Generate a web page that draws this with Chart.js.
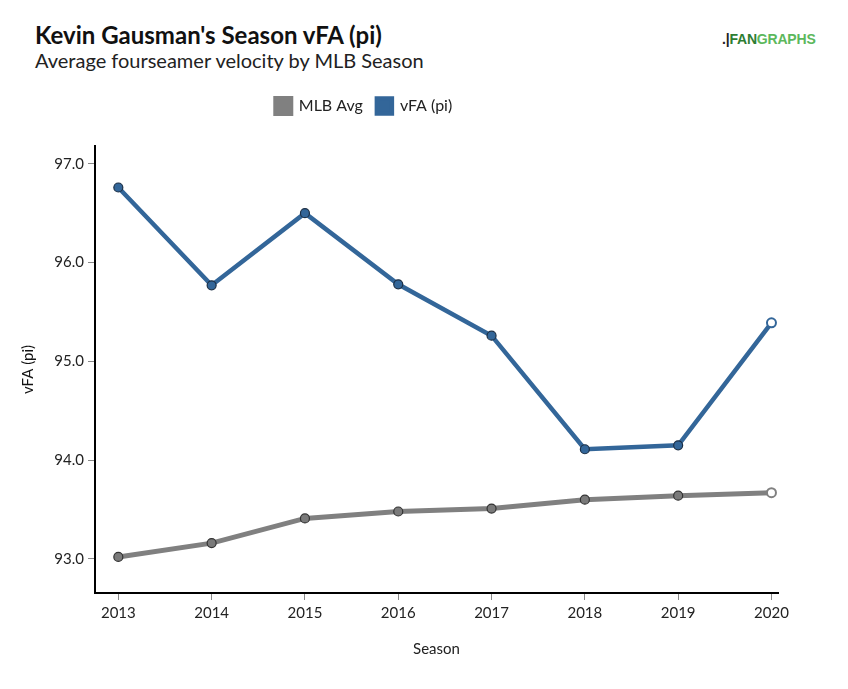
<!DOCTYPE html>
<html>
<head>
<meta charset="utf-8">
<script src="https://cdn.jsdelivr.net/npm/chart.js@4"></script>
<style>
  body { margin: 0; background: #fff; font-family: Lato, sans-serif; }
  #wrap { position: relative; width: 848px; height: 689px; }
  #title { position: absolute; left: 35px; top: 20px; font-size: 24px; font-weight: bold; color: #111; }
  #subtitle { position: absolute; left: 35px; top: 48px; font-size: 20px; color: #222; }
  #logo { position: absolute; left: 722px; top: 31px; font-family: "Liberation Sans", Arial, sans-serif; font-size: 14px; font-weight: bold; letter-spacing: -0.2px; }
  #logo .icon { color: #222; }
  #logo .fan { color: #2e7d32; }
  #logo .graphs { color: #5cb85c; }
  canvas { position: absolute; left: 0; top: 0; }
</style>
</head>
<body>
<div id="wrap">
  <div id="title">Kevin Gausman's Season vFA (pi)</div>
  <div id="subtitle">Average fourseamer velocity by MLB Season</div>
  <div id="logo"><span class="icon">.|</span><span class="fan">FAN</span><span class="graphs">GRAPHS</span></div>
  <canvas id="myChart" width="848" height="689"></canvas>
</div>
<script>
// シーズン
const seasons = [2013, 2014, 2015, 2016, 2017, 2018, 2019, 2020];

// MLB平均
const mlbAvg = [93.02, 93.16, 93.41, 93.48, 93.51, 93.60, 93.64, 93.67];

// ガウスマンの vFA (pi)
const vfa = [96.76, 95.77, 96.50, 95.78, 95.26, 94.11, 94.15, 95.39];

// 目盛り
const yTicks = [93, 94, 95, 96, 97];

const blue = '#336699';
const gray = '#808080';

// 最後の点だけ白抜き
const isLast = ctx => ctx.dataIndex === seasons.length - 1;
function fillFor(color) {
    return ctx => isLast(ctx) ? '#ffffff' : color;
}
function borderFor(color, edge) {
    return ctx => isLast(ctx) ? color : edge;
}
const borderWidthFor = ctx => isLast(ctx) ? 2 : 1.2;

// 凡例の位置をずらす
const legendShift = {
    id: 'legendShift',
    afterInit(chart) {
        const lg = chart.legend;
        const fit = lg.fit;
        lg.fit = function () { fit.call(this); this.height += 22; };
        const draw = lg.draw;
        lg.draw = function () {
            const s = 364 - (this.left + this.right) / 2;
            this.left += s; this.right += s;
            draw.call(this);
        };
    }
};

const data = {
    datasets: [{
        label: 'MLB Avg',
        data: seasons.map((s, i) => ({ x: s, y: mlbAvg[i] })),
        borderColor: gray,
        backgroundColor: gray,
        borderWidth: 5,
        pointRadius: 4.5,
        pointBorderWidth: borderWidthFor,
        pointBackgroundColor: fillFor('#7a7a7a'),
        pointBorderColor: borderFor(gray, '#333333'),
    }, {
        label: 'vFA (pi)',
        data: seasons.map((s, i) => ({ x: s, y: vfa[i] })),
        borderColor: blue,
        backgroundColor: blue,
        borderWidth: 4.5,
        pointRadius: 4.5,
        pointBorderWidth: borderWidthFor,
        pointBackgroundColor: fillFor(blue),
        pointBorderColor: borderFor(blue, '#1c2f45'),
    }]
};

const config = {
    type: 'line',
    data: data,
    plugins: [legendShift],
    options: {
        responsive: false,
        animation: false,
        layout: { padding: { top: 84, left: 0, right: 70, bottom: 0 } },
        font: { family: 'Lato' },
        plugins: {
            legend: {
                labels: {
                    boxWidth: 15, boxHeight: 15, padding: 14,
                    color: '#222', font: { family: 'Lato', size: 16 }
                }
            },
            tooltip: { enabled: false }
        },
        scales: {
            x: {
                type: 'linear',
                min: 2012.75,
                max: 2020.07,
                afterBuildTicks: s => { s.ticks = seasons.map(v => ({ value: v })); },
                afterFit: s => { s.height = 96; },
                ticks: {
                    callback: v => String(v),
                    color: '#222', font: { family: 'Lato', size: 15 }, padding: 4, maxRotation: 0
                },
                grid: { drawOnChartArea: false, tickLength: 7, color: '#888' },
                border: { color: '#000', width: 2 },
                title: {
                    display: true, text: 'Season', color: '#222',
                    font: { family: 'Lato', size: 15 }, padding: { top: 0, bottom: 31 }
                }
            },
            y: {
                min: 92.655,
                max: 97.18,
                afterBuildTicks: s => { s.ticks = yTicks.map(v => ({ value: v })); },
                afterFit: s => { s.width = 95; },
                ticks: {
                    callback: v => v.toFixed(1),
                    color: '#222', font: { family: 'Lato', size: 15 }, padding: 4
                },
                grid: { drawOnChartArea: false, tickLength: 7, color: '#888' },
                border: { color: '#000', width: 2 },
                title: {
                    display: true, text: 'vFA (pi)', color: '#111',
                    font: { family: 'Lato', size: 15 }, padding: { top: 19, bottom: 0 }
                }
            }
        }
    }
};

const myChart = new Chart(document.getElementById('myChart'), config);
</script>
</body>
</html>
